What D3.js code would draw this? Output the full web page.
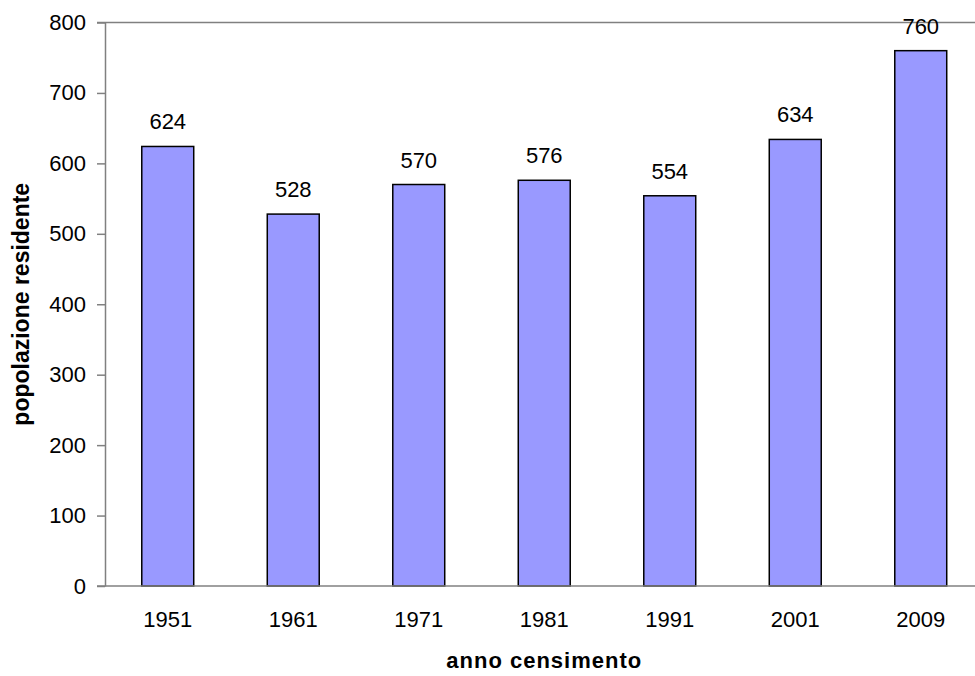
<!DOCTYPE html>
<html>
<head>
<meta charset="utf-8">
<script src="https://cdn.jsdelivr.net/npm/d3@7"></script>
<style>
  html, body { margin: 0; padding: 0; background: #fff; }
  svg { display: block; font-family: "Liberation Sans", Arial, sans-serif; }
</style>
</head>
<body>
<svg id="chart" width="975" height="676"></svg>
<script>
// Popolazione residente per anno di censimento
const years = ["1951", "1961", "1971", "1981", "1991", "2001", "2009"];
const population = [624, 528, 570, 576, 554, 634, 760];
const yTicks = [0, 100, 200, 300, 400, 500, 600, 700, 800];

const width = 975, height = 676;
const margin = { top: 22.5, right: -8.5, bottom: 90, left: 105 };
const svg = d3.select("#chart");
const fontSize = 22;

const x = d3.scaleBand()
  .domain(years)
  .range([margin.left, width - margin.right])
  .paddingInner(0.586)
  .paddingOuter(0.293);

const y = d3.scaleLinear()
  .domain([0, 800])
  .range([height - margin.bottom, margin.top]);

const axisColor = "#808080";

// top border of the plot area
svg.append("line")
  .attr("x1", margin.left - 8).attr("x2", width)
  .attr("y1", y(800)).attr("y2", y(800))
  .attr("stroke", axisColor).attr("stroke-width", 1.5);

// bars
svg.append("g")
  .selectAll("rect")
  .data(years)
  .join("rect")
  .attr("x", d => x(d))
  .attr("y", (d, i) => y(population[i]))
  .attr("width", x.bandwidth())
  .attr("height", (d, i) => y(0) - y(population[i]))
  .attr("fill", "#9999ff")
  .attr("stroke", "#000")
  .attr("stroke-width", 1.5);

// value labels
svg.append("g")
  .selectAll("text")
  .data(years)
  .join("text")
  .attr("x", d => x(d) + x.bandwidth() / 2)
  .attr("y", (d, i) => y(population[i]) - 17)
  .attr("text-anchor", "middle")
  .attr("font-size", fontSize)
  .attr("fill", "#000")
  .text((d, i) => population[i]);

// y axis
const yAxis = svg.append("g")
  .attr("transform", `translate(${margin.left},0)`)
  .call(d3.axisLeft(y).tickValues(yTicks).tickSize(8).tickPadding(11).tickSizeOuter(0));
yAxis.select(".domain").attr("stroke", axisColor).attr("stroke-width", 1.5);
yAxis.selectAll(".tick line").attr("stroke", axisColor).attr("stroke-width", 1.5);
yAxis.selectAll(".tick text").attr("font-size", fontSize).attr("fill", "#000")
  .attr("font-family", "Liberation Sans, Arial, sans-serif");

// x axis
const xAxis = svg.append("g")
  .attr("transform", `translate(0,${y(0)})`)
  .call(d3.axisBottom(x).tickSize(0).tickPadding(25).tickSizeOuter(0));
xAxis.select(".domain").remove();
xAxis.selectAll(".tick text").attr("font-size", fontSize).attr("fill", "#000")
  .attr("font-family", "Liberation Sans, Arial, sans-serif");
svg.append("line")
  .attr("x1", margin.left - 8).attr("x2", width)
  .attr("y1", y(0)).attr("y2", y(0))
  .attr("stroke", axisColor).attr("stroke-width", 1.5);

// axis titles
svg.append("text")
  .attr("x", (margin.left + width - margin.right) / 2)
  .attr("y", 668)
  .attr("text-anchor", "middle")
  .attr("font-size", 22)
  .attr("font-weight", "bold")
  .attr("letter-spacing", 1)
  .text("anno censimento");

svg.append("text")
  .attr("transform", `translate(29,${(y(0) + y(800)) / 2}) rotate(-90)`)
  .attr("text-anchor", "middle")
  .attr("font-size", 23)
  .attr("font-weight", "bold")
  .text("popolazione residente");
</script>
</body>
</html>
